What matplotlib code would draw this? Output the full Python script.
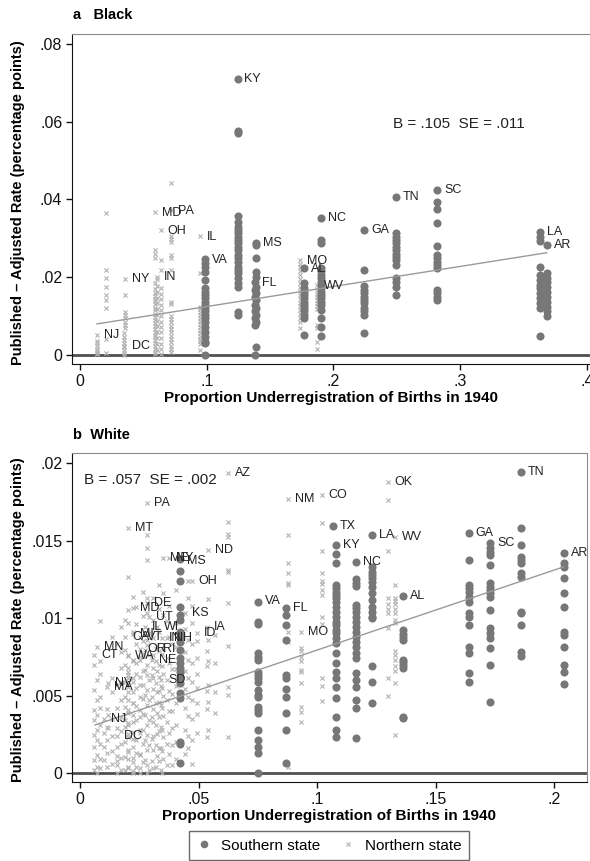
import matplotlib
matplotlib.use("Agg")
import matplotlib.pyplot as plt
from matplotlib.lines import Line2D

plt.rcParams['font.family'] = ['Liberation Sans', 'DejaVu Sans']

# ---------------- Panel a: Black ----------------
a_south_x = [0.0986, 0.1243, 0.1390, 0.1380, 0.1765, 0.1905, 0.2243, 0.2493, 0.2819, 0.3629, 0.3682]
a_south_y = [
    [0.0246, 0.0236, 0.0226, 0.0214, 0.0193, 0.0172, 0.0163, 0.0155, 0.0146, 0.0137, 0.0129,
     0.0120, 0.0112, 0.0103, 0.0094, 0.0086, 0.0073, 0.0060, 0.0047, 0.0034, 0.0030, 0.0],
    [0.0710, 0.0576, 0.0572, 0.0358, 0.0343, 0.0330, 0.0321, 0.0313, 0.0304, 0.0296, 0.0287,
     0.0279, 0.0270, 0.0257, 0.0249, 0.0240, 0.0227, 0.0219, 0.0210, 0.0197, 0.0184, 0.0176,
     0.0111, 0.0103],
    [0.0289, 0.0283, 0.0249, 0.0214, 0.0201, 0.0176, 0.0159, 0.0141, 0.0120, 0.0103, 0.0086, 0.0021],
    [0.0189, 0.0167, 0.0150, 0.0129, 0.0112, 0.0094, 0.0077, 0.0],
    [0.0223, 0.0185, 0.0172, 0.0163, 0.0154, 0.0146, 0.0137, 0.0129, 0.0120, 0.0112, 0.0103,
     0.0094, 0.0051],
    [0.0352, 0.0296, 0.0289, 0.0223, 0.0215, 0.0206, 0.0197, 0.0189, 0.0180, 0.0172, 0.0163,
     0.0154, 0.0146, 0.0137, 0.0128, 0.0116, 0.0094, 0.0073, 0.0049],
    [0.0322, 0.0219, 0.0178, 0.0168, 0.0159, 0.0150, 0.0141, 0.0133, 0.0120, 0.0112, 0.0103, 0.0057],
    [0.0406, 0.0313, 0.0304, 0.0296, 0.0287, 0.0279, 0.0270, 0.0261, 0.0253, 0.0244, 0.0231,
     0.0197, 0.0189, 0.0176, 0.0154],
    [0.0424, 0.0394, 0.0375, 0.0340, 0.0280, 0.0257, 0.0249, 0.0240, 0.0231, 0.0223, 0.0167,
     0.0159, 0.0150, 0.0141],
    [0.0317, 0.0304, 0.0292, 0.0227, 0.0206, 0.0193, 0.0180, 0.0172, 0.0159, 0.0146, 0.0133,
     0.0120, 0.0049],
    [0.0283, 0.0210, 0.0197, 0.0189, 0.0176, 0.0163, 0.0150, 0.0137, 0.0124, 0.0112, 0.0099],
]
a_north_x = [0.0134, 0.0205, 0.0355, 0.0350, 0.0592, 0.0607, 0.0639, 0.0716, 0.0947, 0.1736, 0.1867]
a_north_y = [
    [0.0051, 0.0035, 0.0030, 0.0022, 0.0015, 0.0010, 0.0005, 0.0002],
    [0.0366, 0.0219, 0.0197, 0.0176, 0.0155, 0.0141, 0.0120, 0.0040, 0.0004],
    [0.0195, 0.0154, 0.0111, 0.0103, 0.0095, 0.0086, 0.0077, 0.0069],
    [0.0057, 0.0046, 0.0039, 0.0030, 0.0024, 0.0020, 0.0013, 0.0005, 0.0001],
    [0.0369, 0.0270, 0.0260, 0.0250, 0.0185, 0.0170, 0.0160, 0.0152, 0.0145, 0.0138, 0.0130,
     0.0122, 0.0115, 0.0105, 0.0097, 0.0090, 0.0082, 0.0075, 0.0068, 0.0060, 0.0052, 0.0045,
     0.0038, 0.0030, 0.0022, 0.0015, 0.0008, 0.0003],
    [0.0201, 0.0196, 0.0178, 0.0162, 0.0147, 0.0133, 0.0118, 0.0103, 0.0088, 0.0074, 0.0059,
     0.0044, 0.0029, 0.0014],
    [0.0322, 0.0244, 0.0219, 0.0172, 0.0158, 0.0143, 0.0129, 0.0115, 0.0100, 0.0086, 0.0072,
     0.0058, 0.0043, 0.0029, 0.0015, 0.0003],
    [0.0443, 0.0372, 0.0306, 0.0299, 0.0290, 0.0257, 0.0250, 0.0218, 0.0136, 0.0130, 0.0101,
     0.0092, 0.0084, 0.0075, 0.0067, 0.0058, 0.0050, 0.0041, 0.0033, 0.0024, 0.0016, 0.0007],
    [0.0307, 0.0210, 0.0124, 0.0118, 0.0110, 0.0102, 0.0095, 0.0088, 0.0080, 0.0072, 0.0065,
     0.0057, 0.0050, 0.0042, 0.0035, 0.0027, 0.0012],
    [0.0244, 0.0235, 0.0226, 0.0215, 0.0205, 0.0195, 0.0185, 0.0175, 0.0165, 0.0155, 0.0145,
     0.0135, 0.0125, 0.0115, 0.0105, 0.0095, 0.0085, 0.0070],
    [0.0180, 0.0168, 0.0158, 0.0150, 0.0142, 0.0134, 0.0126, 0.0118, 0.0077, 0.0069, 0.0034, 0.0015],
]
a_label_text = ["NJ", "DC", "NY", "IN", "MD", "PA", "OH", "IL", "VA", "KY", "MS", "FL", "MO",
                "AL", "WV", "NC", "GA", "TN", "SC", "LA", "AR"]
a_label_x = [0.0134, 0.0355, 0.0355, 0.0607, 0.0592, 0.0716, 0.0637, 0.0947, 0.0986, 0.1243,
             0.1390, 0.1380, 0.1736, 0.1767, 0.1867, 0.1905, 0.2243, 0.2493, 0.2819, 0.3629, 0.3682]
a_label_y = [0.0051, 0.0024, 0.0195, 0.0201, 0.0366, 0.0370, 0.0319, 0.0304, 0.0244, 0.0710,
             0.0287, 0.0184, 0.0243, 0.0220, 0.0177, 0.0352, 0.0322, 0.0406, 0.0424, 0.0317, 0.0283]
a_fit_intercept, a_fit_slope = 0.0073, 0.0516
a_fit_range = [0.0134, 0.3682]
a_stat_text = "B = .105  SE = .011"
a_xticks = [0, 0.1, 0.2, 0.3, 0.4]
a_xticklabels = ["0", ".1", ".2", ".3", ".4"]
a_yticks = [0, 0.02, 0.04, 0.06, 0.08]
a_yticklabels = ["0", ".02", ".04", ".06", ".08"]

# ---------------- Panel b: White ----------------
b_south_x = [0.0422, 0.0750, 0.0869, 0.1068, 0.1080, 0.1165, 0.1231, 0.1362, 0.1640, 0.1730, 0.1860, 0.2040]
b_south_y = [
    [0.0138, 0.01303, 0.01237, 0.01073, 0.0102, 0.00987, 0.00912, 0.0088, 0.00847, 0.00794,
     0.0074, 0.00708, 0.00675, 0.00654, 0.00621, 0.00579, 0.00514, 0.00482, 0.00202, 0.00187, 0.00067],
    [0.01105, 0.00976, 0.00961, 0.00772, 0.0075, 0.00729, 0.00654, 0.0063, 0.0061, 0.00589,
     0.00535, 0.00503, 0.00492, 0.00428, 0.00406, 0.00385, 0.00277, 0.00213, 0.0017, 0.00127, 0.0],
    [0.01062, 0.0102, 0.00955, 0.00858, 0.00632, 0.0061, 0.0054, 0.00492, 0.00385, 0.00277, 0.00066],
    [0.01594],
    [0.01469, 0.01413, 0.01353, 0.01213, 0.01191, 0.0117, 0.01148, 0.01127, 0.01105, 0.01073,
     0.0104, 0.01009, 0.00976, 0.00955, 0.00923, 0.00901, 0.00869, 0.00837, 0.00772, 0.00708,
     0.00654, 0.00611, 0.00557, 0.00482, 0.00363, 0.00277, 0.0023],
    [0.01364, 0.0125, 0.01228, 0.01206, 0.01084, 0.01062, 0.0104, 0.01009, 0.00976, 0.00944,
     0.00912, 0.0088, 0.00847, 0.00815, 0.00772, 0.0074, 0.00643, 0.006, 0.00557, 0.00471,
     0.00417, 0.00224],
    [0.01535, 0.01331, 0.01299, 0.01277, 0.01256, 0.01234, 0.01202, 0.01159, 0.01116, 0.01073,
     0.0104, 0.01009, 0.00998, 0.0069, 0.00589, 0.00454],
    [0.01144, 0.00923, 0.009, 0.0088, 0.00858, 0.00729, 0.00718, 0.00697, 0.00675, 0.00363, 0.00353],
    [0.01546, 0.01374, 0.01213, 0.01191, 0.0117, 0.01138, 0.01105, 0.0103, 0.01009, 0.00955,
     0.00815, 0.00772, 0.00643, 0.00589],
    [0.01482, 0.0145, 0.01428, 0.01406, 0.01342, 0.01224, 0.01202, 0.01181, 0.01159, 0.01138,
     0.01052, 0.00933, 0.00901, 0.00869, 0.00804, 0.00697, 0.00456],
    [0.01944, 0.01579, 0.01471, 0.01396, 0.01374, 0.01353, 0.01288, 0.01267, 0.0104, 0.0103,
     0.00955, 0.00783, 0.00755],
    [0.01417, 0.01353, 0.01331, 0.01256, 0.01159, 0.01073, 0.00912, 0.0089, 0.00811, 0.00697,
     0.00654, 0.00574],
]
b_north_x = [0.0060, 0.0070, 0.0113, 0.0119, 0.0103, 0.0155, 0.0190, 0.0201, 0.0201, 0.0222,
             0.0222, 0.0253, 0.0253, 0.0274, 0.0281, 0.0281, 0.0292, 0.0302, 0.0321, 0.0324,
             0.0342, 0.0345, 0.0352, 0.0368, 0.0375, 0.0390, 0.0443, 0.0471, 0.0492, 0.0535,
             0.0541, 0.0623, 0.0879, 0.0931, 0.1020, 0.1298, 0.1329,
             0.0085, 0.0135, 0.0172, 0.0238, 0.0265, 0.0310, 0.0335, 0.0405, 0.0455, 0.0568]
b_north_y = [
    [0.00761, 0.00697, 0.00535, 0.00406, 0.00342, 0.00245, 0.0017, 0.00084, 0.00019],        # CT
    [0.00815, 0.006, 0.00471, 0.00374, 0.00277, 0.00213, 0.00116, 0.00041, 0.0],             # MN
    [0.00553, 0.0041, 0.003, 0.00213, 0.00127, 0.00041],                                      # MA
    [0.00579, 0.00374, 0.0029],                                                               # NV
    [0.00346, 0.00256, 0.0017, 0.00084],                                                      # NJ
    [0.0083, 0.0057, 0.0042, 0.0029, 0.00239, 0.0017, 0.0011, 0.0008, 0.0005, 0.0],           # DC
    [0.0088, 0.00987, 0.00794, 0.00697, 0.00589, 0.00492, 0.00428, 0.00342, 0.00299, 0.00202,
     0.00105, 0.0002],                                                                        # CA
    [0.00755, 0.01052, 0.00675, 0.00632, 0.0061, 0.0052, 0.0039, 0.0031, 0.0025, 0.0015,
     0.0009, 0.0003],                                                                         # WA
    [0.01579, 0.01267, 0.00966, 0.00761, 0.00654, 0.00557, 0.00471, 0.00406, 0.0032, 0.00234,
     0.00138, 0.00041],                                                                       # MT
    [0.01065, 0.01138, 0.00912, 0.00729, 0.0061, 0.00525, 0.0045, 0.00374, 0.00267, 0.0017,
     0.00073, 0.0],                                                                           # MD
    [0.0090, 0.0072, 0.0059, 0.0045, 0.0033, 0.0022, 0.0010, 0.0001],                        # MI
    [0.0088, 0.0075, 0.0062, 0.0049, 0.0036, 0.0026, 0.0012, 0.0003],                        # VT
    [0.00798, 0.00729, 0.00568, 0.00406, 0.00277, 0.00116, 0.0],                              # OR
    [0.00944, 0.00794, 0.00665, 0.00503, 0.00374, 0.00213, 0.00084],                          # IL
    [0.01744, 0.01535, 0.0145, 0.01374, 0.01127, 0.00858, 0.00632, 0.00439, 0.00245, 0.00052],  # PA
    [0.0110, 0.0103, 0.00826, 0.00697, 0.00535, 0.0031, 0.00148, 0.0],                        # DE
    [0.01009, 0.00901, 0.00761, 0.006, 0.00471, 0.00342, 0.00181, 0.0002],                    # UT
    [0.00729, 0.0063, 0.0049, 0.0036, 0.0022, 0.0008],                                        # NE
    [0.00798, 0.0072, 0.0058, 0.0045, 0.0031, 0.0018, 0.0004],                                # RI
    [0.00944, 0.0082, 0.0066, 0.0052, 0.0039, 0.0025, 0.0011],                                # WI
    [0.0060, 0.0056, 0.0044, 0.0030, 0.0016, 0.0002],                                         # SD
    [0.00869, 0.0077, 0.0069, 0.0055, 0.0042, 0.0028, 0.0014, 0.0],                           # IN
    [0.0139, 0.0116, 0.0102, 0.0080, 0.0064, 0.0050, 0.0037, 0.0023, 0.0009],                 # ME
    [0.00869, 0.0098, 0.0074, 0.0060, 0.0047, 0.0033, 0.0019, 0.0005],                        # NH
    [0.0139, 0.0108, 0.0088, 0.0071, 0.0053, 0.0040, 0.0026, 0.0012],                         # NY
    [0.0083, 0.0067, 0.0051, 0.0040, 0.0029, 0.0018, 0.0005],                                 # (unlabelled)
    [0.0103, 0.0093, 0.0078, 0.0066, 0.0054, 0.0042, 0.0028, 0.0012],                         # KS
    [0.01237, 0.0108, 0.0097, 0.0083, 0.0071, 0.0059, 0.0047, 0.0035, 0.0021, 0.0006],        # OH
    [0.00901, 0.0085, 0.0074, 0.0064, 0.0055, 0.0045, 0.0038, 0.0026],                        # ID
    [0.00944, 0.0079, 0.0069, 0.0053, 0.0041, 0.0023],                                        # IA
    [0.0144, 0.0112, 0.0086, 0.0072, 0.0057, 0.0046, 0.0028],                                 # ND
    [0.01937, 0.01621, 0.01545, 0.01525, 0.0131, 0.01297, 0.01097, 0.0082, 0.00557, 0.00503, 0.00234],  # AZ
    [0.01766, 0.01535, 0.01355, 0.0129, 0.01226, 0.01213, 0.00912, 0.00847, 0.0004],          # NM
    [0.00912, 0.00804, 0.0079, 0.0075, 0.0072, 0.00665, 0.00654, 0.0058, 0.00423, 0.00396, 0.00331],  # MO
    [0.01794, 0.01611, 0.01434, 0.0129, 0.0124, 0.0122, 0.0118, 0.01148, 0.01009, 0.0096,
     0.00611, 0.0056, 0.00467],                                                               # CO
    [0.0188, 0.01761, 0.01432, 0.0113, 0.0109, 0.0106, 0.0103, 0.00935, 0.0061, 0.0050],     # OK
    [0.01525, 0.01213, 0.0113, 0.0111, 0.0109, 0.0106, 0.0103, 0.0099, 0.0097, 0.0079, 0.0076,
     0.0073, 0.0069, 0.0066, 0.0058, 0.00245],                                                # WV
    [0.0098, 0.0072, 0.0064, 0.0049, 0.0042, 0.0031, 0.0019, 0.0009, 0.0003],                 # (unlabelled)
    [0.0088, 0.0061, 0.0052, 0.0035, 0.0024, 0.0014, 0.0006],
    [0.0094, 0.0078, 0.0068, 0.0059, 0.0047, 0.0036, 0.0027, 0.0019, 0.0010, 0.0002],
    [0.0107, 0.0096, 0.0083, 0.0071, 0.0064, 0.0055, 0.0043, 0.0034, 0.0021, 0.0013, 0.0004],
    [0.0117, 0.0101, 0.0085, 0.0077, 0.0066, 0.0057, 0.0048, 0.0038, 0.0028, 0.0019, 0.0007],
    [0.0113, 0.0099, 0.0087, 0.0076, 0.0068, 0.0061, 0.0054, 0.0041, 0.0033, 0.0024, 0.0015, 0.0003],
    [0.0121, 0.0106, 0.0091, 0.0079, 0.0070, 0.0062, 0.0053, 0.0046, 0.0036, 0.0027, 0.0016, 0.0008],
    [0.0118, 0.0097, 0.0081, 0.0067, 0.0056, 0.0045, 0.0031, 0.0020, 0.0009],
    [0.0124, 0.0113, 0.0086, 0.0073, 0.0061, 0.0049, 0.0037, 0.0024, 0.0016],
    [0.0089, 0.0071, 0.0052, 0.0039],
]
b_label_text = ["AZ", "PA", "MT", "ME", "NY", "MS", "ND", "OH", "DE", "MD", "UT", "KS", "IL", "WI",
                "IA", "ID", "CA", "MI", "VT", "IN", "NH", "MN", "CT", "OR", "RI", "WA", "NE", "SD",
                "NV", "MA", "NJ", "DC", "VA", "FL", "MO", "NM", "CO", "TX", "KY", "LA", "WV", "NC",
                "AL", "OK", "GA", "SC", "TN", "AR"]
b_label_x = [0.0623, 0.0281, 0.0201, 0.0352, 0.0375, 0.0422, 0.0541, 0.0471, 0.0281, 0.0222,
             0.0292, 0.0443, 0.0274, 0.0324, 0.0535, 0.0492, 0.0190, 0.0222, 0.0253, 0.0345,
             0.0368, 0.0070, 0.0060, 0.0253, 0.0321, 0.0201, 0.0302, 0.0342, 0.0119, 0.0113,
             0.0103, 0.0155, 0.0750, 0.0869, 0.0931, 0.0879, 0.1020, 0.1068, 0.1080, 0.1231,
             0.1329, 0.1165, 0.1362, 0.1298, 0.1640, 0.1730, 0.1860, 0.2040]
b_label_y = [0.01937, 0.01744, 0.01579, 0.0139, 0.0139, 0.0137, 0.0144, 0.01237, 0.0110, 0.01065,
             0.01009, 0.0103, 0.00944, 0.00944, 0.00944, 0.00901, 0.0088, 0.0090, 0.0088, 0.00869,
             0.00869, 0.00815, 0.00761, 0.00798, 0.00798, 0.00755, 0.00729, 0.0060, 0.00579, 0.00553,
             0.00346, 0.00239, 0.01112, 0.01062, 0.00912, 0.01766, 0.01794, 0.01594, 0.01469, 0.01535,
             0.01525, 0.01364, 0.01144, 0.0188, 0.01546, 0.01482, 0.01944, 0.01417]
b_fit_intercept, b_fit_slope = 0.00277, 0.0516
b_fit_range = [0.0063, 0.2040]
b_stat_text = "B = .057  SE = .002"
b_xticks = [0, 0.05, 0.1, 0.15, 0.2]
b_xticklabels = ["0", ".05", ".1", ".15", ".2"]
b_yticks = [0, 0.005, 0.01, 0.015, 0.02]
b_yticklabels = ["0", ".005", ".01", ".015", ".02"]

xlabel = "Proportion Underregistration of Births in 1940"
ylabel = "Published \u2013 Adjusted Rate (percentage points)"
legend_labels = ["Southern state", "Northern state"]

SOUTH_C = "#777777"
NORTH_C = "#b2b2b2"
FIT_C = "#9a9a9a"

fig = plt.figure(figsize=(5.9, 8.61), dpi=100)
ax_a = fig.add_axes([72 / 590, 1 - 364 / 861, 518 / 590, 330 / 861])
ax_b = fig.add_axes([72 / 590, 1 - 782 / 861, 515 / 590, 329 / 861])


def draw_panel(ax, sx, sy, nx, ny, lt, lx, ly, fit_a, fit_b, fit_rng, stat, stat_pos,
               xt, xtl, yt, ytl, xlim, ylim, fs_tick, right_spine):
    for x, ys in zip(nx, ny):
        ax.scatter([x] * len(ys), ys, marker="x", s=9, linewidths=0.8, color=NORTH_C,
                   zorder=2, clip_on=False)
    for x, ys in zip(sx, sy):
        ax.scatter([x] * len(ys), ys, marker="o", s=34, linewidths=0, color=SOUTH_C,
                   zorder=3, clip_on=False)
    ax.plot(fit_rng, [fit_a + fit_b * fit_rng[0], fit_a + fit_b * fit_rng[1]],
            color=FIT_C, lw=1.0, zorder=4)
    for t, x, y in zip(lt, lx, ly):
        ax.annotate(t, (x, y), xytext=(5, 0), textcoords="offset points", va="center",
                    ha="left", fontsize=9, color="#222222", zorder=5)
    ax.axhline(0, color="#505050", lw=2.0, zorder=1)
    ax.text(stat_pos[0], stat_pos[1], stat, fontsize=11, ha="left", va="center",
            color="#222222")
    ax.set_xlim(*xlim)
    ax.set_ylim(*ylim)
    ax.set_xticks(xt)
    ax.set_xticklabels(xtl)
    ax.set_yticks(yt)
    ax.set_yticklabels(ytl)
    ax.tick_params(axis="both", direction="out", length=4.5, width=1.0, labelsize=fs_tick,
                   colors="#111111", pad=2.5)
    ax.spines["left"].set_color("#111111")
    ax.spines["bottom"].set_color("#111111")
    ax.spines["top"].set_color("#8a8a8a")
    ax.spines["right"].set_color("#8a8a8a")
    ax.spines["right"].set_visible(right_spine)
    ax.set_xlabel(xlabel, fontsize=11, fontweight="bold", labelpad=1.5)


draw_panel(ax_a, a_south_x, a_south_y, a_north_x, a_north_y, a_label_text, a_label_x, a_label_y,
           a_fit_intercept, a_fit_slope, a_fit_range, a_stat_text, (0.247, 0.0594),
           a_xticks, a_xticklabels, a_yticks, a_yticklabels,
           (-0.0063, 0.4024), (-0.00232, 0.08257), 11.5, False)
draw_panel(ax_b, b_south_x, b_south_y, b_north_x, b_north_y, b_label_text, b_label_x, b_label_y,
           b_fit_intercept, b_fit_slope, b_fit_range, b_stat_text, (0.0017, 0.0189),
           b_xticks, b_xticklabels, b_yticks, b_yticklabels,
           (-0.00338, 0.2139), (-0.00058, 0.020645), 11.5, True)

fig.text(73 / 590, 1 - 15 / 861, "a   Black", fontsize=10.5, fontweight="bold", va="center", ha="left")
fig.text(73 / 590, 1 - 435 / 861, "b  White", fontsize=10.5, fontweight="bold", va="center", ha="left")
fig.text(18 / 590, 1 - 203 / 861, ylabel, rotation=90, fontsize=10.5, fontweight="bold",
         va="center", ha="center")
fig.text(18 / 590, 1 - 620 / 861, ylabel, rotation=90, fontsize=10.5, fontweight="bold",
         va="center", ha="center")

handles = [Line2D([], [], marker="o", ls="none", color=SOUTH_C, markersize=5.5, mew=0),
           Line2D([], [], marker="x", ls="none", color=NORTH_C, markersize=3, mew=0.8)]
leg = fig.legend(handles, legend_labels, loc="upper center", bbox_to_anchor=(329 / 590, 1 - 831 / 861),
                 ncol=2, fontsize=11, frameon=True, fancybox=False, edgecolor="#444444",
                 handletextpad=0.6, columnspacing=1.3, borderpad=0.5, handlelength=1.0,
                 borderaxespad=0)
leg.get_frame().set_linewidth(1.0)

fig.savefig("out.png", dpi=100)
